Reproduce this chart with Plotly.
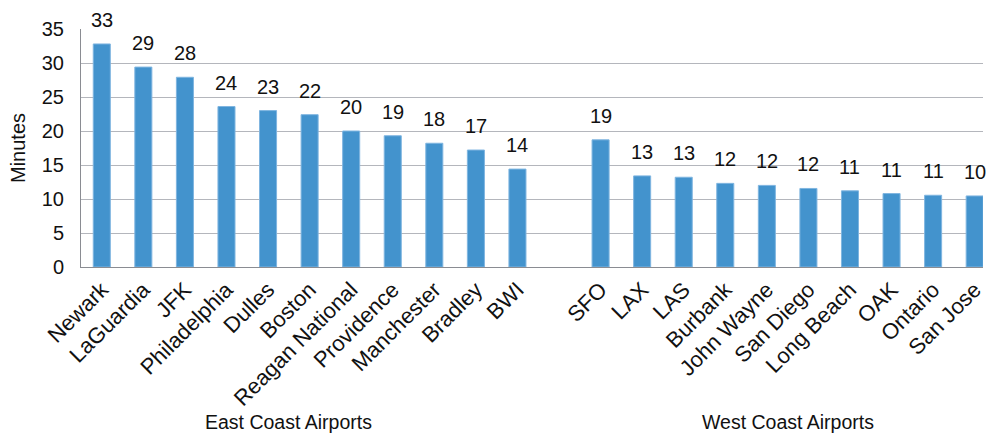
import plotly.graph_objects as go

# Average wait time (minutes) by airport
east_airports = ["Newark", "LaGuardia", "JFK", "Philadelphia", "Dulles", "Boston",
                 "Reagan National", "Providence", "Manchester", "Bradley", "BWI"]
east_minutes = [32.8, 29.4, 27.9, 23.6, 23.0, 22.4, 20.0, 19.3, 18.2, 17.2, 14.4]

west_airports = ["SFO", "LAX", "LAS", "Burbank", "John Wayne", "San Diego",
                 "Long Beach", "OAK", "Ontario", "San Jose"]
west_minutes = [18.7, 13.4, 13.2, 12.3, 12.0, 11.55, 11.2, 10.8, 10.55, 10.45]

group_labels = ["East Coast Airports", "West Coast Airports"]
y_ticks = [0, 5, 10, 15, 20, 25, 30, 35]

FONT = "Liberation Sans, Arial, Helvetica, sans-serif"
BAR_COLOR = "#4393cd"
GRID_COLOR = "#b4b6bc"

# one empty slot separates the two coasts
east_x = list(range(len(east_airports)))
west_x = [len(east_airports) + 1 + i for i in range(len(west_airports))]
all_x = east_x + west_x
all_names = east_airports + west_airports
all_vals = east_minutes + west_minutes

fig = go.Figure()
fig.add_trace(go.Bar(
    x=all_x, y=all_vals, width=0.41,
    marker=dict(color=BAR_COLOR, line=dict(color="#7fb5e0", width=1)),
    hoverinfo="x+y", showlegend=False,
))

# value labels above each bar
for xv, yv in zip(all_x, all_vals):
    fig.add_annotation(x=xv, y=yv, xref="x", yref="y", text=f"{yv:.0f}",
                       showarrow=False, yanchor="bottom", yshift=11,
                       font=dict(family=FONT, size=20, color="#111"))

# group labels under each coast's set of bars
fig.add_annotation(x=4.5, y=0, xref="x", yref="paper", text=group_labels[0],
                   showarrow=False, yanchor="middle", yshift=-155,
                   font=dict(family=FONT, size=19.5, color="#111"))
fig.add_annotation(x=16.5, y=0, xref="x", yref="paper", text=group_labels[1],
                   showarrow=False, yanchor="middle", yshift=-155,
                   font=dict(family=FONT, size=19.5, color="#111"))

fig.update_layout(
    width=986, height=435,
    margin=dict(l=81, r=0, t=29, b=168),
    paper_bgcolor="white", plot_bgcolor="white",
    font=dict(family=FONT, size=20, color="#111"),
    xaxis=dict(
        range=[-0.5, 21.2], tickmode="array", tickvals=all_x, ticktext=all_names,
        tickangle=-45, showgrid=False, zeroline=False,
        showline=True, linecolor="#8a8c92", linewidth=1.2,
        tickfont=dict(family=FONT, size=22, color="#111"),
        ticks="", ticklabeloverflow="allow", fixedrange=True,
    ),
    yaxis=dict(
        range=[0, 35], tickmode="array", tickvals=y_ticks,
        showgrid=True, gridcolor=GRID_COLOR, gridwidth=1,
        zeroline=False, showline=True, linecolor="#8a8c92", linewidth=1,
        ticks="", ticklabelstandoff=12,
        tickfont=dict(family=FONT, size=20, color="#111"),
        title=dict(text="Minutes", font=dict(family=FONT, size=20, color="#111"), standoff=10),
    ),
)

fig.write_html("out.html")
